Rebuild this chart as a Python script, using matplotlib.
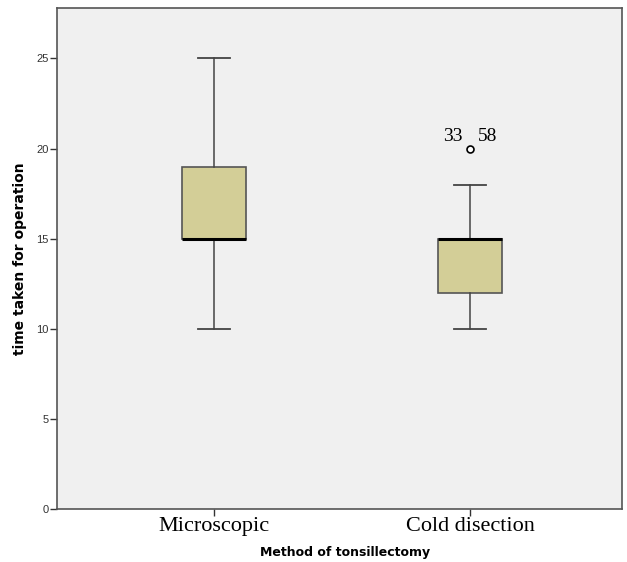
import matplotlib.pyplot as plt

# summary values
groups = ['Microscopic', 'Cold disection']
whislo = [10, 10]
q1 = [15, 12]
med = [15, 15]
q3 = [19, 15]
whishi = [25, 18]
fliers = [[], [20]]
flier_ids = ['33', '58']
yticks = [0, 5, 10, 15, 20, 25]

stats = []
for i in range(len(groups)):
    stats.append({'label': groups[i], 'whislo': whislo[i], 'q1': q1[i], 'med': med[i],
                  'q3': q3[i], 'whishi': whishi[i], 'fliers': fliers[i]})

fig = plt.figure(figsize=(6.27, 5.62), dpi=100)
ax = fig.add_axes([57 / 627, 1 - 509 / 562, 565 / 627, 501 / 562])
ax.set_facecolor('#f0f0f0')

ax.bxp(stats, positions=[1, 2], widths=0.25, patch_artist=True,
       boxprops=dict(facecolor='#d3ce97', edgecolor='#555555', linewidth=1.2),
       medianprops=dict(color='black', linewidth=2.2),
       whiskerprops=dict(color='#444444', linewidth=1.1),
       capprops=dict(color='#444444', linewidth=1.3),
       flierprops=dict(marker='o', markerfacecolor='white', markeredgecolor='black',
                       markersize=5, markeredgewidth=1.2))

# outlier case labels
fx, fy = 2, fliers[1][0]
ax.text(fx - 0.03, fy + 0.2, flier_ids[0], ha='right', va='bottom',
        family='Liberation Serif', fontsize=14)
ax.text(fx + 0.03, fy + 0.2, flier_ids[1], ha='left', va='bottom',
        family='Liberation Serif', fontsize=14)

ax.set_xlim(0.386, 2.594)
ax.set_ylim(0, 27.8)
ax.set_yticks(yticks)
ax.set_yticklabels([str(v) for v in yticks], family='Liberation Sans', fontsize=8,
                   color='#333333')
ax.set_xticks([1, 2])
ax.set_xticklabels(groups, family='Liberation Serif', fontsize=16)
ax.tick_params(axis='both', direction='out', length=5, width=1, color='#333333', pad=1)

for s in ax.spines.values():
    s.set_color('#555555')
    s.set_linewidth(1.2)

ax.set_ylabel('time taken for operation', family='DejaVu Sans', fontweight='bold',
              fontsize=10)
ax.yaxis.set_label_coords(-0.053, 0.5)
ax.set_xlabel('Method of tonsillectomy', family='DejaVu Sans', fontweight='bold',
              fontsize=9)
ax.xaxis.set_label_coords(0.51, -0.074)

fig.savefig('out.png', dpi=100)
